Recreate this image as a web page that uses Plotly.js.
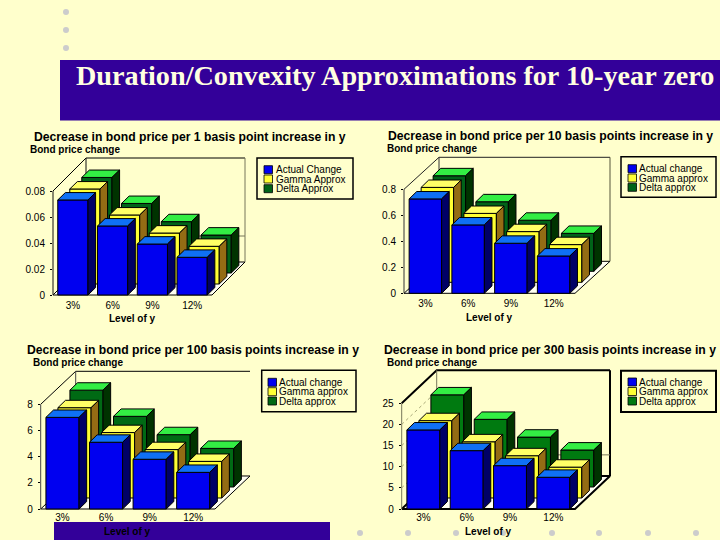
<!DOCTYPE html>
<html><head><meta charset="utf-8">
<script src="https://cdn.plot.ly/plotly-3.0.1.min.js"></script>
<style>html,body{margin:0;padding:0;background:#FFFFCC}#c{width:720px;height:540px}</style>
</head><body><div id="c"></div>
<script>
// ---- data ----
const levels = ['3%','6%','9%','12%'];
const actual1 = [0.0731,0.0531,0.0392,0.0290];
const gamma1  = [0.0731,0.0531,0.0392,0.0290];
const delta1  = [0.0735,0.0535,0.0395,0.0292];
const actual10 = [0.726,0.526,0.385,0.287];
const gamma10  = [0.730,0.530,0.390,0.290];
const delta10  = [0.735,0.535,0.393,0.292];
const actual100 = [7.0,5.1,3.8,2.8];
const gamma100  = [6.9,5.0,3.7,2.8];
const delta100  = [7.4,5.4,4.0,2.95];
const actual300 = [18.7,13.8,10.25,7.5];
const gamma300  = [18.3,13.3,10.0,7.3];
const delta300  = [21.8,16.0,11.8,8.75];
const ticks1 = [0,0.02,0.04,0.06,0.08];
const tickText1 = ['0','0.02','0.04','0.06','0.08'];
const ticks10 = [0,0.2,0.4,0.6,0.8];
const tickText10 = ['0','0.2','0.4','0.6','0.8'];
const ticks100 = [0,2,4,6,8];
const ticks300 = [0,5,10,15,20,25];
const titles = ['Decrease in bond price per 1 basis point increase in y',
 'Decrease in bond price per 10 basis points increase in y',
 'Decrease in bond price per 100 basis points increase in y',
 'Decrease in bond price per 300 basis points increase in y'];
const legend1 = ['Actual Change','Gamma Approx','Delta Approx'];
const legendN = ['Actual change','Gamma approx','Delta approx'];
const mainTitle = 'Duration/Convexity Approximations for 10-year zero';
const yLabel = 'Bond price change';
const xLabel = 'Level of y';

// ---- layout helpers ----
const W=720,H=540;
const px=x=>x/W, py=y=>1-y/H;
const charts=[
 {series:[actual1,gamma1,delta1],ticks:ticks1,text:tickText1,ymax:0.08,names:legend1,
  l:53,r:212,y0:295,y1:191,D:[33,33],title:[190,137],ylab:[29,149.3],xlabY:[132,318],xoff:3,
  wall:{c:'#000',w:1,right:'#77775A',left:'#111',stub:true,diag:false},box:[257,158,353,199],sw:264,rows:[169.7,179,188.7],txt:275,
  front:'#006318'},
 {series:[actual10,gamma10,delta10],ticks:ticks10,text:tickText10,ymax:0.8,names:legendN,
  l:404,r:575,y0:293.3,y1:189.3,D:[35,32],title:[550,135.7],ylab:[385.7,148],xlabY:[489,317],xoff:3,
  wall:{c:'#222',w:1,right:'#55553A',left:'#333',stub:false,diag:false},box:[621,156.7,716,197.3],sw:628,rows:[168.7,178,187.3],txt:638,
  front:'#006318'},
 {series:[actual100,gamma100,delta100],ticks:ticks100,text:ticks100.map(String),ymax:8,names:legendN,
  l:40.7,r:215,y0:509,y1:404.3,D:[35,33],title:[193,350],ylab:[31.7,362],xlabY:[127,531],xoff:1,
  wall:{c:'#000',w:1,right:null,left:'#444',stub:false,diag:false},box:[261.7,370.3,356,411.7],sw:268,rows:[382.3,391.7,401],txt:278,
  front:'#006A14'},
 {series:[actual300,gamma300,delta300],ticks:ticks300,text:ticks300.map(String),ymax:25,names:legendN,
  l:401.7,r:575,y0:509,y1:403.3,D:[35,33],title:[550,349.7],ylab:[385.7,362],xlabY:[488,531],xoff:1,
  wall:{c:'#000',w:2,right:'#000',left:'#77775A',stub:true,diag:true},box:[621,370.7,716,412],sw:628,rows:[382,391.5,401],txt:638,
  front:'#007A10'}
];
// back-to-front drawing order: delta, gamma, actual
const layerStyle=[
 {idx:2,shift:[24,22],top:'#33EE44',side:'#003300'},
 {idx:1,shift:[12,11],top:'#FFFF66',side:'#946C14',front:'#FFFF33'},
 {idx:0,shift:[0,0],top:'#0F70F5',side:'#000066',front:'#0000F0'}
];
const barW=0.76, depth=[7.6,7.4];
const traces=[]; const layout={
 width:W,height:H,autosize:false,margin:{l:0,r:0,t:0,b:0},
 paper_bgcolor:'#FFFFCC',plot_bgcolor:'rgba(0,0,0,0)',showlegend:false,
 font:{family:'"Liberation Sans",Arial,sans-serif',size:10,color:'#000'},
 title:{text:mainTitle,x:76/W,xanchor:'left',xref:'paper',y:py(75.5),yanchor:'middle',yref:'container',pad:{t:0,b:0,l:0,r:0},
   font:{family:'"Liberation Serif","Times New Roman",serif',size:28.2,color:'#FFFFE0',weight:'bold'}},
 shapes:[],annotations:[]};
const rect=(x0,y0,x1,y1,fill,line,lw,layer)=>({type:'rect',xref:'paper',yref:'paper',x0:px(x0),x1:px(x1),y0:py(y0),y1:py(y1),
  fillcolor:fill,line:{color:line||fill,width:lw===undefined?0:lw},layer:layer||'below'});
const dot=(x,y)=>({type:'circle',xref:'paper',yref:'paper',x0:px(x-3),x1:px(x+3),y0:py(y-3),y1:py(y+3),fillcolor:'#CCCCCC',line:{width:0},layer:'below'});
const note=(text,x,y,size,bold,anchor)=>({text:text,xref:'paper',yref:'paper',x:px(x),y:py(y),showarrow:false,xanchor:anchor||'left',yanchor:'middle',
  font:{size:size,weight:bold?'bold':'normal',color:'#000'},borderpad:0});

layout.shapes.push(rect(60,60,720,120.5,'#330099'));
layout.shapes.push(rect(54,522,330,540,'#330099'));
[12,30,48].forEach(y=>layout.shapes.push(dot(66,y)));
[360,408,456,503,552,599,648,696].forEach(x=>layout.shapes.push(dot(x,533)));

let n=0;
const axId=k=>k===1?'':String(k);
const padL=4,padB=4,padR=50,padT=50; // room for the oblique depth so faces are not clipped
charts.forEach((c,ci)=>{
  const pitch=(c.r-c.l)/4, scale=(c.y0-c.y1)/c.ymax;
  // axes-only subplot with the exact front plane
  n++;
  layout['xaxis'+axId(n)]={domain:[px(c.l),px(c.r)],range:[-0.5,3.5],anchor:'y'+axId(n),tickmode:'array',tickvals:[0,1,2,3],ticktext:levels,
    ticks:'',ticklabelstandoff:c.xoff,showgrid:false,zeroline:false,showline:false,fixedrange:true,tickfont:{size:10}};
  layout['yaxis'+axId(n)]={domain:[py(c.y0),py(c.y1)],range:[0,c.ymax],anchor:'x'+axId(n),tickmode:'array',tickvals:c.ticks,ticktext:c.text,
    ticks:'outside',ticklen:2,tickcolor:'#000',tickwidth:1,ticklabelstandoff:3,showgrid:false,zeroline:false,showline:false,fixedrange:true,tickfont:{size:10}};
  traces.push({type:'scatter',mode:'markers',x:[0],y:[0],xaxis:'x'+axId(n),yaxis:'y'+axId(n),marker:{opacity:0,size:1},hoverinfo:'skip',showlegend:false});
  // padded range/domain pair for a layer shifted by (sx,sy) pixels
  const setAxes=(k,sx,sy)=>{
    layout['xaxis'+axId(k)]={domain:[px(c.l+sx-padL),px(c.r+sx+padR)],range:[-0.5-padL/pitch,3.5+padR/pitch],anchor:'y'+axId(k),visible:false,fixedrange:true};
    layout['yaxis'+axId(k)]={domain:[py(c.y0-sy+padB),py(c.y1-sy-padT)],range:[-padB/scale,c.ymax+padT/scale],anchor:'x'+axId(k),visible:false,fixedrange:true};
  };
  // walls and floor
  n++; setAxes(n,0,0);
  const dxu=c.D[0]/pitch, dyu=c.D[1]/scale, xa=-0.5, xb=3.5, m=c.ymax;
  const wallTrace=(x,y,color,width,dash,extra)=>traces.push(Object.assign({type:'scatter',mode:'lines',x:x,y:y,xaxis:'x'+axId(n),yaxis:'y'+axId(n),
    line:{color:color,width:width,dash:dash||'solid'},hoverinfo:'skip',showlegend:false},extra||{}));
  wallTrace([xa,xa+dxu,xb+dxu,xb,xa],[0,dyu,dyu,0,0],'#000',c.wall.w,'solid',{fill:'toself',fillcolor:'#FFFFF2'});
  wallTrace([xa,xa+dxu,xb+dxu],[m,m+dyu,m+dyu],c.wall.c,c.wall.w);
  wallTrace([xa,xa],[0,m],c.wall.left,1);
  wallTrace([xa+dxu,xa+dxu],[m+dyu,dyu],c.wall.left,1);
  if(c.wall.right) wallTrace([xb+dxu,xb+dxu],[m+dyu,dyu],c.wall.right,c.wall.right==='#000'?c.wall.w:1);
  if(c.wall.stub) wallTrace([xa+dxu,xb+dxu],[c.ticks[1]+dyu,c.ticks[1]+dyu],'#77775A',1);
  if(c.wall.diag){
    const gx=[],gy=[];
    c.ticks.slice(1,-1).forEach(t=>{gx.push(xa,xa+dxu,null);gy.push(t,t+dyu,null);});
    wallTrace(gx,gy,'#A8A878',1,'dot');
  }
  // series layers
  layerStyle.forEach(s=>{
    n++; setAxes(n,s.shift[0],s.shift[1]);
    const vals=c.series[s.idx];
    traces.push({type:'bar',name:c.names[s.idx],x:[0,1,2,3],y:vals,width:barW,xaxis:'x'+axId(n),yaxis:'y'+axId(n),
      marker:{color:s.front||c.front,line:{color:'#000',width:1}},showlegend:false,hoverinfo:'name+y'});
    const ddx=depth[0]/pitch, ddy=depth[1]/scale;
    const tx=[],ty=[],sx=[],sy=[];
    vals.forEach((v,i)=>{
      const a=i-barW/2,b=i+barW/2;
      tx.push(a,b,b+ddx,a+ddx,a,null); ty.push(v,v,v+ddy,v+ddy,v,null);
      sx.push(b,b+ddx,b+ddx,b,b,null); sy.push(0,ddy,v+ddy,v,0,null);
    });
    [[tx,ty,s.top],[sx,sy,s.side]].forEach(f=>traces.push({type:'scatter',mode:'lines',x:f[0],y:f[1],fill:'toself',fillcolor:f[2],
      xaxis:'x'+axId(n),yaxis:'y'+axId(n),line:{color:'#000',width:1},hoverinfo:'skip',showlegend:false}));
  });
  // text
  layout.annotations.push(note(titles[ci],c.title[0],c.title[1],12.2,true,'center'));
  layout.annotations.push(note(yLabel,c.ylab[0],c.ylab[1],10,true,'left'));
  layout.annotations.push(note(xLabel,c.xlabY[0],c.xlabY[1],10,true,'center'));
  // legend
  const b=c.box;
  layout.shapes.push(rect(b[0],b[1],b[2],b[3],'rgba(0,0,0,0)','#000',c.wall.w===2?2:1.5,'above'));
  [['#0000F0'],['#FFFF33'],[c.front]].forEach((f,k)=>{
    layout.shapes.push(rect(c.sw,c.rows[k]-4,c.sw+8.5,c.rows[k]+4,f[0],'#000',0.8,'above'));
    layout.annotations.push(note(c.names[k],c.txt,c.rows[k],10,false,'left'));
  });
});
Plotly.newPlot('c',traces,layout,{staticPlot:true,displayModeBar:false});
</script></body></html>
